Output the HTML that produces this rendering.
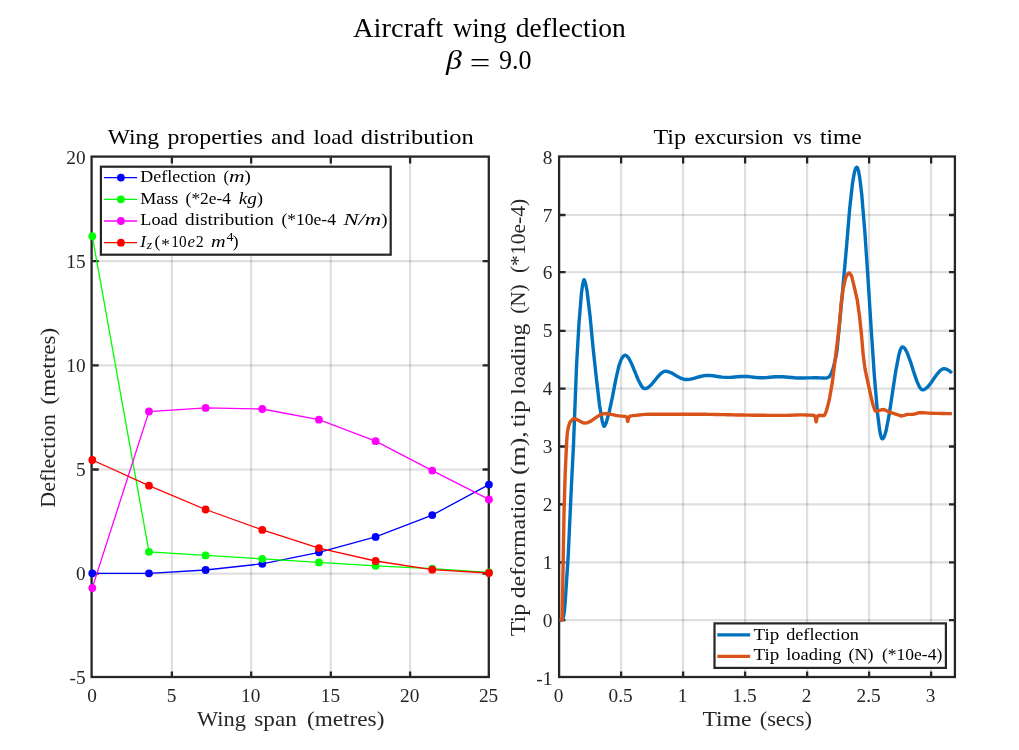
<!DOCTYPE html>
<html lang="en"><head><meta charset="utf-8"><title>Aircraft wing deflection</title>
<style>html,body{margin:0;padding:0;background:#fff;overflow:hidden}svg{display:block;will-change:transform}text{font-family:"Liberation Serif",serif}</style></head>
<body>
<svg width="1019" height="750" viewBox="0 0 1019 750" font-family='"Liberation Serif", serif' role="img" aria-label="Aircraft wing deflection charts">
<rect width="1019" height="750" fill="#fff"/>
<text x="353" y="36.9" font-size="28" fill="#000" textLength="90.2" lengthAdjust="spacingAndGlyphs">Aircraft</text>
<text x="453" y="36.9" font-size="28" fill="#000" textLength="53.5" lengthAdjust="spacingAndGlyphs">wing</text>
<text x="515.8" y="36.9" font-size="28" fill="#000" textLength="110" lengthAdjust="spacingAndGlyphs">deflection</text>
<text x="445.9" y="69.4" font-size="28" text-anchor="start" fill="#000" textLength="15.9" lengthAdjust="spacingAndGlyphs" font-style="italic" >&#946;</text>
<text x="469.8" y="71.8" font-size="28" text-anchor="start" fill="#000" textLength="20.6" lengthAdjust="spacingAndGlyphs" >=</text>
<text x="499" y="69.4" font-size="27" text-anchor="start" fill="#000" textLength="32.6" lengthAdjust="spacingAndGlyphs" >9.0</text>
<path d="M171.9 156.6V677M251.15 156.6V677M330.8 156.6V677M410.1 156.6V677" stroke="#262626" stroke-opacity="0.15" stroke-width="2.2" fill="none"/>
<path d="M91.6 261.2H488.8M91.6 365.3H488.8M91.6 469.5H488.8M91.6 573.7H488.8" stroke="#262626" stroke-opacity="0.15" stroke-width="2.2" fill="none"/>
<path d="M171.9 677.8v-6.4M171.9 157.2v6.4M251.15 677.8v-6.4M251.15 157.2v6.4M330.8 677.8v-6.4M330.8 157.2v6.4M410.1 677.8v-6.4M410.1 157.2v6.4M92.3 261.2h6.4M489 261.2h-6.4M92.3 365.3h6.4M489 365.3h-6.4M92.3 469.5h6.4M489 469.5h-6.4M92.3 573.7h6.4M489 573.7h-6.4" stroke="#262626" stroke-width="2.3" fill="none"/>
<rect x="91.6" y="156.6" width="397.2" height="520.4" stroke="#262626" stroke-width="2.3" fill="none"/>
<path d="M92.3 573.3L148.96 573.3L205.62 570L262.28 563.8L318.94 552.3L375.6 536.9L432.26 515.1L488.92 484.6" stroke="#0000ff" stroke-width="1.3" fill="none"/>
<circle cx="92.3" cy="573.3" r="3.9" fill="#0000ff"/>
<circle cx="148.96" cy="573.3" r="3.9" fill="#0000ff"/>
<circle cx="205.62" cy="570" r="3.9" fill="#0000ff"/>
<circle cx="262.28" cy="563.8" r="3.9" fill="#0000ff"/>
<circle cx="318.94" cy="552.3" r="3.9" fill="#0000ff"/>
<circle cx="375.6" cy="536.9" r="3.9" fill="#0000ff"/>
<circle cx="432.26" cy="515.1" r="3.9" fill="#0000ff"/>
<circle cx="488.92" cy="484.6" r="3.9" fill="#0000ff"/>
<path d="M92.3 236.2L148.96 551.8L205.62 555.4L262.28 558.8L318.94 562.4L375.6 565.8L432.26 568.6L488.92 572.5" stroke="#00ff00" stroke-width="1.3" fill="none"/>
<circle cx="92.3" cy="236.2" r="3.9" fill="#00ff00"/>
<circle cx="148.96" cy="551.8" r="3.9" fill="#00ff00"/>
<circle cx="205.62" cy="555.4" r="3.9" fill="#00ff00"/>
<circle cx="262.28" cy="558.8" r="3.9" fill="#00ff00"/>
<circle cx="318.94" cy="562.4" r="3.9" fill="#00ff00"/>
<circle cx="375.6" cy="565.8" r="3.9" fill="#00ff00"/>
<circle cx="432.26" cy="568.6" r="3.9" fill="#00ff00"/>
<circle cx="488.92" cy="572.5" r="3.9" fill="#00ff00"/>
<path d="M92.3 587.9L148.96 411.5L205.62 407.9L262.28 409L318.94 419.7L375.6 441.2L432.26 470.6L488.92 499.4" stroke="#ff00ff" stroke-width="1.3" fill="none"/>
<circle cx="92.3" cy="587.9" r="3.9" fill="#ff00ff"/>
<circle cx="148.96" cy="411.5" r="3.9" fill="#ff00ff"/>
<circle cx="205.62" cy="407.9" r="3.9" fill="#ff00ff"/>
<circle cx="262.28" cy="409" r="3.9" fill="#ff00ff"/>
<circle cx="318.94" cy="419.7" r="3.9" fill="#ff00ff"/>
<circle cx="375.6" cy="441.2" r="3.9" fill="#ff00ff"/>
<circle cx="432.26" cy="470.6" r="3.9" fill="#ff00ff"/>
<circle cx="488.92" cy="499.4" r="3.9" fill="#ff00ff"/>
<path d="M92.3 460L148.96 485.7L205.62 509.5L262.28 529.9L318.94 548.1L375.6 561L432.26 569.7L488.92 573" stroke="#ff0000" stroke-width="1.3" fill="none"/>
<circle cx="92.3" cy="460" r="3.9" fill="#ff0000"/>
<circle cx="148.96" cy="485.7" r="3.9" fill="#ff0000"/>
<circle cx="205.62" cy="509.5" r="3.9" fill="#ff0000"/>
<circle cx="262.28" cy="529.9" r="3.9" fill="#ff0000"/>
<circle cx="318.94" cy="548.1" r="3.9" fill="#ff0000"/>
<circle cx="375.6" cy="561" r="3.9" fill="#ff0000"/>
<circle cx="432.26" cy="569.7" r="3.9" fill="#ff0000"/>
<circle cx="488.92" cy="573" r="3.9" fill="#ff0000"/>
<text x="85.6" y="163.6" font-size="19.3" text-anchor="end" fill="#262626" >20</text>
<text x="85.6" y="267.6" font-size="19.3" text-anchor="end" fill="#262626" >15</text>
<text x="85.6" y="371.7" font-size="19.3" text-anchor="end" fill="#262626" >10</text>
<text x="85.6" y="475.9" font-size="19.3" text-anchor="end" fill="#262626" >5</text>
<text x="85.6" y="580.1" font-size="19.3" text-anchor="end" fill="#262626" >0</text>
<text x="85.6" y="684.2" font-size="19.3" text-anchor="end" fill="#262626" >-5</text>
<text x="92.1" y="701.8" font-size="19.3" text-anchor="middle" fill="#262626" >0</text>
<text x="171.5" y="701.8" font-size="19.3" text-anchor="middle" fill="#262626" >5</text>
<text x="250.75" y="701.8" font-size="19.3" text-anchor="middle" fill="#262626" >10</text>
<text x="330.4" y="701.8" font-size="19.3" text-anchor="middle" fill="#262626" >15</text>
<text x="409.7" y="701.8" font-size="19.3" text-anchor="middle" fill="#262626" >20</text>
<text x="488.6" y="701.8" font-size="19.3" text-anchor="middle" fill="#262626" >25</text>
<text x="197.1" y="725.8" font-size="22" fill="#262626" textLength="48.9" lengthAdjust="spacingAndGlyphs">Wing</text>
<text x="254.3" y="725.8" font-size="22" fill="#262626" textLength="42.5" lengthAdjust="spacingAndGlyphs">span</text>
<text x="307" y="725.8" font-size="22" fill="#262626" textLength="77.4" lengthAdjust="spacingAndGlyphs">(metres)</text>
<text x="55.1" y="507.8" font-size="22" fill="#262626" textLength="93.6" lengthAdjust="spacingAndGlyphs" transform="rotate(-90 55.1 507.8)">Deflection</text>
<text x="55.1" y="404.4" font-size="22" fill="#262626" textLength="76.5" lengthAdjust="spacingAndGlyphs" transform="rotate(-90 55.1 404.4)">(metres)</text>
<text x="107.7" y="143.9" font-size="22" fill="#000" textLength="51.4" lengthAdjust="spacingAndGlyphs">Wing</text>
<text x="167.5" y="143.9" font-size="22" fill="#000" textLength="95.2" lengthAdjust="spacingAndGlyphs">properties</text>
<text x="271" y="143.9" font-size="22" fill="#000" textLength="33.9" lengthAdjust="spacingAndGlyphs">and</text>
<text x="313.4" y="143.9" font-size="22" fill="#000" textLength="39.6" lengthAdjust="spacingAndGlyphs">load</text>
<text x="360.8" y="143.9" font-size="22" fill="#000" textLength="112.9" lengthAdjust="spacingAndGlyphs">distribution</text>
<rect x="100.9" y="166.7" width="289.8" height="88" fill="#fff" stroke="#262626" stroke-width="2.2"/>
<path d="M104.1 177.6H137.1" stroke="#0000ff" stroke-width="1.3"/>
<circle cx="120.9" cy="177.6" r="3.9" fill="#0000ff"/>
<path d="M104.1 199.3H137.1" stroke="#00ff00" stroke-width="1.3"/>
<circle cx="120.9" cy="199.3" r="3.9" fill="#00ff00"/>
<path d="M104.1 221H137.1" stroke="#ff00ff" stroke-width="1.3"/>
<circle cx="120.9" cy="221" r="3.9" fill="#ff00ff"/>
<path d="M104.1 242.7H137.1" stroke="#ff0000" stroke-width="1.3"/>
<circle cx="120.9" cy="242.7" r="3.9" fill="#ff0000"/>
<text x="140.3" y="182" font-size="16.6" fill="#000" textLength="75.8" lengthAdjust="spacingAndGlyphs">Deflection</text>
<text x="223.5" y="182" font-size="16.6" fill="#000" textLength="5.5" lengthAdjust="spacingAndGlyphs">(</text>
<text x="229" y="182" font-size="16.6" fill="#000" textLength="15.6" lengthAdjust="spacingAndGlyphs" font-style="italic">m</text>
<text x="244.6" y="182" font-size="16.6" fill="#000" textLength="6.3" lengthAdjust="spacingAndGlyphs">)</text>
<text x="140.3" y="203.7" font-size="16.6" fill="#000" textLength="38.1" lengthAdjust="spacingAndGlyphs">Mass</text>
<text x="185.6" y="203.7" font-size="16.6" fill="#000" textLength="45.4" lengthAdjust="spacingAndGlyphs">(*2e-4</text>
<text x="238.8" y="203.7" font-size="16.6" fill="#000" textLength="18.2" lengthAdjust="spacingAndGlyphs" font-style="italic">kg</text>
<text x="257" y="203.7" font-size="16.6" fill="#000" textLength="6" lengthAdjust="spacingAndGlyphs">)</text>
<text x="140.3" y="225.3" font-size="16.6" fill="#000" textLength="37.3" lengthAdjust="spacingAndGlyphs">Load</text>
<text x="185.1" y="225.3" font-size="16.6" fill="#000" textLength="88.9" lengthAdjust="spacingAndGlyphs">distribution</text>
<text x="281.4" y="225.3" font-size="16.6" fill="#000" textLength="54.6" lengthAdjust="spacingAndGlyphs">(*10e-4</text>
<text x="343.4" y="225.3" font-size="16.6" fill="#000" textLength="37.8" lengthAdjust="spacingAndGlyphs" font-style="italic">N/m</text>
<text x="381.2" y="225.3" font-size="16.6" fill="#000" textLength="6.3" lengthAdjust="spacingAndGlyphs">)</text>
<text x="140.3" y="246.9" font-size="16.6" fill="#000" textLength="5.7" lengthAdjust="spacingAndGlyphs" font-style="italic">I</text>
<text x="146.8" y="249.4" font-size="11.620000000000001" fill="#000" textLength="5.4" lengthAdjust="spacingAndGlyphs" font-style="italic">z</text>
<text x="154.4" y="246.9" font-size="16.6" fill="#000" textLength="5.8" lengthAdjust="spacingAndGlyphs">(</text>
<text x="161.3" y="250.4" font-size="16.6" fill="#000" textLength="8.7" lengthAdjust="spacingAndGlyphs">*</text>
<text x="171.3" y="246.9" font-size="16.6" fill="#000" textLength="15.3" lengthAdjust="spacingAndGlyphs">10</text>
<text x="187.4" y="246.9" font-size="16.6" fill="#000" textLength="7.5" lengthAdjust="spacingAndGlyphs" font-style="italic">e</text>
<text x="195.8" y="246.9" font-size="16.6" fill="#000" textLength="8" lengthAdjust="spacingAndGlyphs">2</text>
<text x="211" y="246.9" font-size="16.6" fill="#000" textLength="14.6" lengthAdjust="spacingAndGlyphs" font-style="italic">m</text>
<text x="232.8" y="246.9" font-size="16.6" fill="#000" textLength="5.8" lengthAdjust="spacingAndGlyphs">)</text>
<text x="226.4" y="241.2" font-size="11.620000000000001" fill="#000" textLength="7" lengthAdjust="spacingAndGlyphs">4</text>
<path d="M621.1 156.5V677M683.1 156.5V677M745.1 156.5V677M807.1 156.5V677M869.1 156.5V677M931.1 156.5V677" stroke="#262626" stroke-opacity="0.15" stroke-width="2.2" fill="none"/>
<path d="M559.1 215H954.9M559.1 272.1H954.9M559.1 330.8H954.9M559.1 388.7H954.9M559.1 446.5H954.9M559.1 504.4H954.9M559.1 562.3H954.9M559.1 620.2H954.9" stroke="#262626" stroke-opacity="0.15" stroke-width="2.2" fill="none"/>
<path d="M621.1 678v-6.4M621.1 157v6.4M683.1 678v-6.4M683.1 157v6.4M745.1 678v-6.4M745.1 157v6.4M807.1 678v-6.4M807.1 157v6.4M869.1 678v-6.4M869.1 157v6.4M931.1 678v-6.4M931.1 157v6.4M559.1 215h6.4M955.4 215h-6.4M559.1 272.1h6.4M955.4 272.1h-6.4M559.1 330.8h6.4M955.4 330.8h-6.4M559.1 388.7h6.4M955.4 388.7h-6.4M559.1 446.5h6.4M955.4 446.5h-6.4M559.1 504.4h6.4M955.4 504.4h-6.4M559.1 562.3h6.4M955.4 562.3h-6.4M559.1 620.2h6.4M955.4 620.2h-6.4" stroke="#262626" stroke-width="2.3" fill="none"/>
<rect x="559.1" y="156.5" width="395.8" height="520.5" stroke="#262626" stroke-width="2.3" fill="none"/>
<clipPath id="rc"><rect x="559.1" y="157" width="396.3" height="521"/></clipPath>
<path d="M559.50 620.10L562.35 620.09L562.50 619.95L562.80 619.28L563.70 615.52L564.45 610.25L565.05 604.16L568.20 556.00L571.35 487.27L573.45 445.84L576.60 364.23L579.00 323.23L581.40 293.84L582.45 285.82L583.50 280.96L583.80 280.05L583.95 279.79L584.10 279.70L584.25 279.77L584.55 280.28L585.75 284.27L586.95 290.30L590.10 316.52L593.25 349.49L596.40 378.54L599.55 405.25L602.25 421.20L603.45 425.29L603.75 425.97L604.05 426.35L604.20 426.40L604.35 426.36L604.65 426.09L606.30 422.45L609.45 410.97L612.60 396.11L615.75 379.67L618.90 365.99L620.85 360.33L622.50 357.14L624.15 355.55L624.90 355.22L625.80 355.32L627.00 356.07L628.95 358.51L632.10 364.80L635.25 372.58L638.40 380.24L641.55 386.15L643.20 388.00L644.25 388.59L645.75 388.61L648.15 387.54L651.30 384.72L654.45 380.96L657.60 377.02L660.75 373.63L663.60 371.66L665.55 371.20L668.70 371.72L671.85 373.08L675.00 374.91L678.15 376.83L681.30 378.47L684.45 379.46L687.60 379.53L690.75 379.07L693.90 378.31L697.05 377.40L700.20 376.51L703.35 375.79L706.50 375.42L709.65 375.48L712.80 375.78L715.95 376.23L719.10 376.71L722.25 377.13L725.40 377.37L728.55 377.37L731.70 377.20L734.85 376.95L738.00 376.68L741.15 376.48L744.30 376.40L747.45 376.54L750.60 376.84L753.75 377.22L756.90 377.57L760.05 377.78L763.20 377.77L766.35 377.58L769.50 377.31L772.65 377.02L775.80 376.79L778.95 376.70L782.10 376.78L785.25 376.98L788.40 377.25L791.55 377.53L794.70 377.79L797.85 377.96L801.00 378.00L804.15 377.97L807.30 377.92L810.45 377.86L813.60 377.81L816.75 377.80L819.90 377.90L823.05 378.03L826.20 378.10L828.60 377.24L829.50 376.34L831.30 373.38L833.10 368.69L836.25 355.24L837.00 350.57L840.15 317.52L843.30 282.91L846.45 247.65L849.60 209.49L852.45 183.65L854.40 172.35L855.00 170.03L856.05 167.76L856.35 167.38L856.65 167.20L856.95 167.28L857.25 167.57L857.70 168.40L858.45 170.81L859.65 177.11L861.75 194.54L864.90 232.51L868.05 279.33L871.20 329.01L874.35 375.55L877.50 412.95L879.45 428.89L880.50 434.57L881.25 437.22L881.70 438.21L882.00 438.60L882.30 438.79L882.60 438.77L883.05 438.52L883.65 437.78L884.55 435.87L886.20 430.19L889.35 413.44L892.50 392.51L895.65 371.65L898.80 355.10L900.30 349.96L901.20 348.00L901.80 347.23L902.25 346.94L902.85 346.94L903.75 347.37L904.95 348.64L907.20 352.80L910.35 361.33L913.50 371.27L916.65 380.64L919.35 386.74L920.85 388.88L921.90 389.70L922.65 389.90L924.45 389.50L927.30 387.40L930.45 383.62L933.60 379.08L936.75 374.57L939.90 370.90L942.30 369.17L943.95 368.71L946.50 369.16L949.65 371.02L951.90 373.00" stroke="#0072bd" stroke-width="3.4" fill="none" stroke-linejoin="round" clip-path="url(#rc)"/>
<path d="M559.50 620.10L561.90 620.10L562.05 619.84L562.20 616.36L562.80 583.71L564.00 513.03L565.20 472.80L566.70 441.09L567.15 434.83L567.75 430.22L568.65 426.16L569.85 422.65L570.45 421.57L572.55 419.29L573.45 418.79L575.25 418.86L578.40 420.28L581.55 422.15L584.25 423.14L587.40 422.80L590.55 421.33L593.70 419.20L596.85 416.92L600.00 414.94L603.15 413.75L606.30 413.66L609.45 414.05L612.60 414.65L615.75 415.31L618.90 415.86L622.05 416.15L625.20 416.43L625.80 416.57L626.25 416.91L627.00 418.00L627.15 418.49L627.60 420.94L627.75 421.37L627.90 421.28L628.50 418.32L629.10 416.97L629.55 416.36L632.70 415.63L635.85 415.32L639.00 414.96L642.15 414.63L645.30 414.39L648.45 414.30L651.60 414.30L654.75 414.30L657.90 414.30L661.05 414.30L664.20 414.30L667.35 414.30L670.50 414.30L673.65 414.30L676.80 414.30L679.95 414.30L683.10 414.30L686.25 414.30L689.40 414.30L692.55 414.30L695.70 414.30L698.85 414.30L702.00 414.30L705.15 414.32L708.30 414.35L711.45 414.39L714.60 414.45L717.75 414.51L720.90 414.58L724.05 414.65L727.20 414.72L730.35 414.80L733.50 414.87L736.65 414.95L739.80 415.01L742.95 415.07L746.10 415.13L749.25 415.17L752.40 415.20L755.55 415.23L758.70 415.26L761.85 415.28L765.00 415.31L768.15 415.33L771.30 415.35L774.45 415.37L777.60 415.38L780.75 415.39L783.90 415.40L787.05 415.38L790.20 415.28L793.35 415.12L796.50 414.97L799.65 414.90L802.80 414.91L805.95 414.96L809.10 415.09L812.25 415.31L814.20 415.50L814.35 415.56L814.65 415.87L815.40 417.50L815.55 418.17L816.00 421.31L816.15 421.86L816.30 421.74L816.90 417.89L817.50 416.30L817.80 415.78L818.10 415.52L821.25 415.50L823.95 415.47L824.25 415.28L824.85 414.44L826.35 411.15L829.20 400.19L832.20 383.17L834.75 363.05L837.90 337.47L839.25 325.20L841.20 303.15L843.15 288.89L845.25 279.41L846.15 276.71L847.80 273.94L848.55 273.19L849.00 273.01L849.30 273.03L849.75 273.30L850.80 274.72L851.70 276.44L854.85 289.43L857.25 300.01L859.50 316.01L861.45 334.50L863.25 355.35L865.05 369.11L868.20 383.77L871.35 398.05L873.15 405.47L874.95 410.30L875.40 411.07L875.70 411.34L878.85 410.54L882.00 409.69L883.95 409.53L887.10 411.06L890.25 412.32L893.40 413.36L896.55 414.36L899.70 415.52L901.95 416.00L905.10 415.02L907.20 414.41L910.35 414.40L913.50 414.40L916.65 413.46L919.20 412.62L922.35 412.69L925.50 412.92L928.65 413.14L931.80 413.25L934.95 413.34L938.10 413.42L941.25 413.49L944.40 413.54L947.55 413.58L950.70 413.60L951.90 413.60" stroke="#d95319" stroke-width="3.4" fill="none" stroke-linejoin="round" clip-path="url(#rc)"/>
<text x="552.3" y="163.5" font-size="19.3" text-anchor="end" fill="#262626" >8</text>
<text x="552.3" y="221.5" font-size="19.3" text-anchor="end" fill="#262626" >7</text>
<text x="552.3" y="278.6" font-size="19.3" text-anchor="end" fill="#262626" >6</text>
<text x="552.3" y="337.3" font-size="19.3" text-anchor="end" fill="#262626" >5</text>
<text x="552.3" y="395.2" font-size="19.3" text-anchor="end" fill="#262626" >4</text>
<text x="552.3" y="453" font-size="19.3" text-anchor="end" fill="#262626" >3</text>
<text x="552.3" y="510.9" font-size="19.3" text-anchor="end" fill="#262626" >2</text>
<text x="552.3" y="568.8" font-size="19.3" text-anchor="end" fill="#262626" >1</text>
<text x="552.3" y="626.7" font-size="19.3" text-anchor="end" fill="#262626" >0</text>
<text x="552.3" y="684.5" font-size="19.3" text-anchor="end" fill="#262626" >-1</text>
<text x="558.6" y="701.6" font-size="19.3" text-anchor="middle" fill="#262626" >0</text>
<text x="620.6" y="701.6" font-size="19.3" text-anchor="middle" fill="#262626" >0.5</text>
<text x="682.6" y="701.6" font-size="19.3" text-anchor="middle" fill="#262626" >1</text>
<text x="744.6" y="701.6" font-size="19.3" text-anchor="middle" fill="#262626" >1.5</text>
<text x="806.6" y="701.6" font-size="19.3" text-anchor="middle" fill="#262626" >2</text>
<text x="868.6" y="701.6" font-size="19.3" text-anchor="middle" fill="#262626" >2.5</text>
<text x="930.6" y="701.6" font-size="19.3" text-anchor="middle" fill="#262626" >3</text>
<text x="702.5" y="725.8" font-size="22" fill="#262626" textLength="49.1" lengthAdjust="spacingAndGlyphs">Time</text>
<text x="759.7" y="725.8" font-size="22" fill="#262626" textLength="52.2" lengthAdjust="spacingAndGlyphs">(secs)</text>
<text x="525.1" y="636.2" font-size="22" fill="#262626" textLength="32.4" lengthAdjust="spacingAndGlyphs" transform="rotate(-90 525.1 636.2)">Tip</text>
<text x="525.1" y="598.3" font-size="22" fill="#262626" textLength="116.5" lengthAdjust="spacingAndGlyphs" transform="rotate(-90 525.1 598.3)">deformation</text>
<text x="525.1" y="475" font-size="22" fill="#262626" textLength="43.8" lengthAdjust="spacingAndGlyphs" transform="rotate(-90 525.1 475)">(m),</text>
<text x="525.1" y="427.2" font-size="22" fill="#262626" textLength="26.9" lengthAdjust="spacingAndGlyphs" transform="rotate(-90 525.1 427.2)">tip</text>
<text x="525.1" y="394.8" font-size="22" fill="#262626" textLength="71.3" lengthAdjust="spacingAndGlyphs" transform="rotate(-90 525.1 394.8)">loading</text>
<text x="525.1" y="313.8" font-size="22" fill="#262626" textLength="29.5" lengthAdjust="spacingAndGlyphs" transform="rotate(-90 525.1 313.8)">(N)</text>
<text x="525.1" y="273.1" font-size="22" fill="#262626" textLength="74.4" lengthAdjust="spacingAndGlyphs" transform="rotate(-90 525.1 273.1)">(*10e-4)</text>
<text x="653.5" y="144" font-size="22" fill="#000" textLength="32.6" lengthAdjust="spacingAndGlyphs">Tip</text>
<text x="694.4" y="144" font-size="22" fill="#000" textLength="89" lengthAdjust="spacingAndGlyphs">excursion</text>
<text x="792.9" y="144" font-size="22" fill="#000" textLength="18.8" lengthAdjust="spacingAndGlyphs">vs</text>
<text x="820" y="144" font-size="22" fill="#000" textLength="41.6" lengthAdjust="spacingAndGlyphs">time</text>
<rect x="714.5" y="623.4" width="231.4" height="44.5" fill="#fff" stroke="#262626" stroke-width="2.2"/>
<path d="M717.3 634.9H750.1" stroke="#0072bd" stroke-width="3.2"/>
<path d="M717.3 656.3H750.1" stroke="#d95319" stroke-width="3.2"/>
<text x="753.5" y="639.7" font-size="16.6" fill="#000" textLength="25.8" lengthAdjust="spacingAndGlyphs">Tip</text>
<text x="786.2" y="639.7" font-size="16.6" fill="#000" textLength="72.7" lengthAdjust="spacingAndGlyphs">deflection</text>
<text x="753.5" y="660.3" font-size="16.6" fill="#000" textLength="25.8" lengthAdjust="spacingAndGlyphs">Tip</text>
<text x="786.2" y="660.3" font-size="16.6" fill="#000" textLength="55.3" lengthAdjust="spacingAndGlyphs">loading</text>
<text x="848.5" y="660.3" font-size="16.6" fill="#000" textLength="25.1" lengthAdjust="spacingAndGlyphs">(N)</text>
<text x="881.9" y="660.3" font-size="16.6" fill="#000" textLength="60.4" lengthAdjust="spacingAndGlyphs">(*10e-4)</text>
</svg>
</body></html>
